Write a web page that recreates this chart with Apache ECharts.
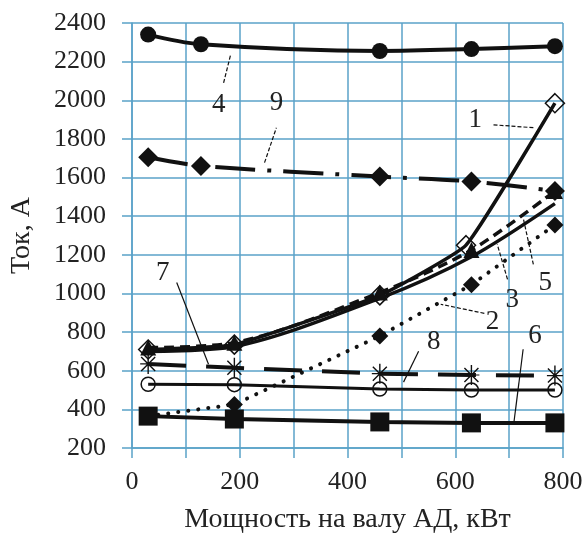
<!DOCTYPE html>
<html>
<head>
<meta charset="utf-8">
<script src="https://cdn.jsdelivr.net/npm/echarts@6/dist/echarts.min.js"></script>
<style>
  html, body { margin: 0; padding: 0; background: #fff; }
  #chart { width: 588px; height: 539px; }
</style>
</head>
<body>
<div id="chart"></div>
<script>
// Shaft power of the induction motor, kW (measurement points)
const powerA = [30, 190, 460, 630, 785];
const powerB = [30, 128, 460, 630, 785];
const powerC = [30, 190, 460, 620, 785];

// Currents, A
const curve1 = [710, 735, 990, 1250, 1985];
const curve2 = [365, 425, 780, 1045, 1355];
const curve3 = [700, 725, 975, 1190, 1465];
const curve4 = [2340, 2290, 2255, 2265, 2280];
const curve5 = [720, 745, 1005, 1225, 1530];
const curve6 = [365, 350, 335, 330, 330];
const curve7 = [635, 615, 585, 578, 575];
const curve8 = [530, 528, 505, 500, 500];
const curve9 = [1705, 1660, 1605, 1580, 1530];

// Axis ranges
const xTicks = [0, 200, 400, 600, 800];
const yTicks = [200, 400, 600, 800, 1000, 1200, 1400, 1600, 1800, 2000, 2200, 2400];

// Curve numbers with leader lines: [label, label x, label y, from x, from y, to x, to y, dashed] in axis units
const curveTags = [
  ['1', 637, 1899, 671, 1873, 745, 1858, true],
  ['2', 669, 851, 654, 897, 573, 944, true],
  ['3', 706, 969, 697, 1073, 678, 1254, true],
  ['4', 161, 1976, 170, 2090, 183, 2235, true],
  ['5', 767, 1057, 745, 1150, 726, 1393, true],
  ['6', 748, 778, 726, 711, 709, 334, false],
  ['7', 57, 1104, 83, 1057, 142, 634, false],
  ['8', 560, 747, 532, 701, 504, 541, false],
  ['9', 268, 1987, 246, 1677, 268, 1858, true]
];

const INK = '#111';
const GRID = '#5aa2c8';
const FONT = '"Liberation Serif", "Times New Roman", serif';

function pairs(xs, ys) { return xs.map((x, i) => [x, ys[i]]); }

// Asterisk marker built from thin bars
const asterisk = 'path://M9.3,0 L10.7,0 L10.7,20 L9.3,20 Z ' +
  'M2.5,3.5 L3.5,2.5 L17.5,16.5 L16.5,17.5 Z ' +
  'M16.5,2.5 L17.5,3.5 L3.5,17.5 L2.5,16.5 Z ' +
  'M2,9.4 L18,9.4 L18,10.6 L2,10.6 Z';

function series(name, xs, ys, opt) {
  return Object.assign({
    name: name,
    type: 'line',
    data: pairs(xs, ys),
    showSymbol: true,
    symbolKeepAspect: true,
    animation: false,
    lineStyle: { color: INK, width: 3.5 },
    itemStyle: { color: INK }
  }, opt);
}

const chart = echarts.init(document.getElementById('chart'), null, { renderer: 'canvas' });

chart.setOption({
  backgroundColor: '#fff',
  animation: false,
  grid: { left: 130, right: 25, top: 23, bottom: 90, containLabel: false },
  xAxis: {
    type: 'value', min: 0, max: 800, interval: 100,
    name: 'Мощность на валу АД, кВт', nameLocation: 'middle', nameGap: 58,
    nameTextStyle: { fontFamily: FONT, fontSize: 28, color: '#222' },
    axisLine: { show: true, lineStyle: { color: GRID, width: 1.5 } },
    axisTick: { show: true, length: 10, lineStyle: { color: GRID, width: 1.5 } },
    splitLine: { show: true, lineStyle: { color: GRID, width: 1.5 } },
    axisLabel: {
      fontFamily: FONT, fontSize: 26, color: '#222', margin: 21,
      formatter: v => (xTicks.indexOf(v) >= 0 ? String(v) : '')
    }
  },
  yAxis: {
    type: 'value', min: 200, max: 2400, interval: 200,
    name: 'Ток, А', nameLocation: 'middle', nameGap: 96,
    nameTextStyle: { fontFamily: FONT, fontSize: 28, color: '#222' },
    axisLine: { show: true, lineStyle: { color: GRID, width: 1.5 } },
    axisTick: { show: true, length: 10, lineStyle: { color: GRID, width: 1.5 } },
    splitLine: { show: true, lineStyle: { color: GRID, width: 1.5 } },
    axisLabel: {
      fontFamily: FONT, fontSize: 26, color: '#222', margin: 26,
      formatter: v => (yTicks.indexOf(v) >= 0 ? String(v) : '')
    }
  },
  series: [
    series('4', powerB, curve4, {
      smooth: 0.35, symbol: 'circle', symbolSize: 16,
      lineStyle: { color: INK, width: 4 }
    }),
    series('9', powerB, curve9, {
      smooth: 0.25, symbol: 'diamond', symbolSize: 20,
      lineStyle: { color: INK, width: 4, type: [40, 12, 4, 12] }
    }),
    series('3', powerA, curve3, {
      smooth: 0.3, symbol: 'none',
      lineStyle: { color: INK, width: 3.5 }
    }),
    series('5', powerA, curve5, {
      smooth: 0.3, symbol: 'triangle', symbolSize: 16,
      lineStyle: { color: INK, width: 3.5, type: [10, 6] }
    }),
    series('1', powerC, curve1, {
      smooth: 0.12, symbol: 'diamond', symbolSize: 19,
      lineStyle: { color: INK, width: 3.5 },
      itemStyle: { color: 'rgba(255,255,255,0)', borderColor: INK, borderWidth: 1.5 }
    }),
    series('2', powerA, curve2, {
      symbol: 'diamond', symbolSize: 17,
      lineStyle: { color: INK, width: 4, type: [0.1, 10], cap: 'round' }
    }),
    series('7', powerA, curve7, {
      symbol: asterisk, symbolSize: 20,
      lineStyle: { color: INK, width: 4, type: [38, 20] }
    }),
    series('8', powerA, curve8, {
      symbol: 'circle', symbolSize: 14,
      lineStyle: { color: INK, width: 3 },
      itemStyle: { color: 'rgba(255,255,255,0)', borderColor: INK, borderWidth: 1.5 }
    }),
    series('6', powerA, curve6, {
      symbol: 'rect', symbolSize: 19,
      lineStyle: { color: INK, width: 4 }
    })
  ]
});

// Curve numbers and their leader lines
const toPx = (x, y) => chart.convertToPixel({ gridIndex: 0 }, [x, y]);
const graphics = [];
curveTags.forEach(t => {
  const p = toPx(t[1], t[2]);
  const a = toPx(t[3], t[4]);
  const b = toPx(t[5], t[6]);
  graphics.push({
    type: 'line', silent: true, z: 20,
    shape: { x1: a[0], y1: a[1], x2: b[0], y2: b[1] },
    style: { stroke: INK, lineWidth: 1.2, lineDash: t[7] ? [4, 2] : null }
  });
  graphics.push({
    type: 'text', silent: true, z: 21,
    x: p[0], y: p[1],
    style: {
      text: t[0], fill: '#222', font: '27px ' + FONT,
      align: 'center', verticalAlign: 'middle'
    }
  });
});
chart.setOption({ graphic: graphics });
</script>
</body>
</html>
